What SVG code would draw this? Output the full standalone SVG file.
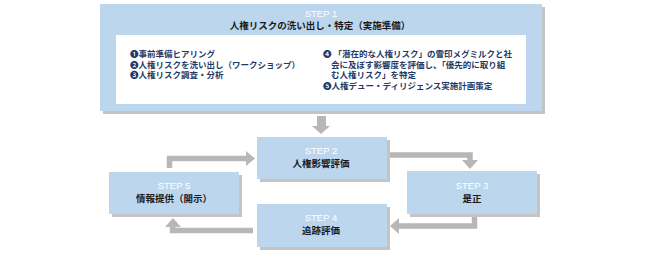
<svg xmlns="http://www.w3.org/2000/svg" width="645" height="256" viewBox="0 0 645 256">
<style>
.box{fill:#bcd6ee}
.shadow{fill:#c4c4c4}
.step{font-family:"Liberation Sans",Arial,sans-serif;font-size:9.5px;fill:#ffffff;text-anchor:middle}
.title{font-family:"Noto Sans CJK JP","Noto Sans",sans-serif;font-size:9.5px;font-weight:bold;fill:#1a1a1a;text-anchor:middle}
.list{font-family:"Noto Sans CJK JP","Noto Sans",sans-serif;font-size:8.5px;font-weight:bold;fill:#1f3a68}
.conn{fill:none;stroke:#b7b7b7;stroke-width:5.5;stroke-linejoin:miter}
.head{fill:#b7b7b7}
</style>
<rect width="645" height="256" fill="#ffffff"/>
<g id="step1">
<rect class="shadow" x="103" y="7" width="442" height="107"/>
<rect class="box" x="100" y="4" width="442" height="107"/>
<rect x="116" y="35" width="410" height="69" fill="#ffffff"/>
<text class="step" x="321" y="16.5">STEP 1</text>
<text class="title" x="320" y="29">人権リスクの洗い出し・特定（実施準備）</text>
<text class="list" x="130" y="57">❶事前準備ヒアリング</text>
<text class="list" x="130" y="67.5">❷人権リスクを洗い出し（ワークショップ）</text>
<text class="list" x="130" y="78">❸人権リスク調査・分析</text>
<text class="list" x="323" y="57">❹ 「潜在的な人権リスク」の雪印メグミルクと社</text>
<text class="list" x="331" y="67.5">会に及ぼす影響度を評価し、「優先的に取り組</text>
<text class="list" x="331" y="78">む人権リスク」を特定</text>
<text class="list" x="323" y="88.5">❺人権デュー・ディリジェンス実施計画策定</text>
</g>
<g id="step2">
<rect class="shadow" x="260" y="140" width="130" height="42"/>
<rect class="box" x="257" y="137" width="130" height="42"/>
<text class="step" x="321" y="154">STEP 2</text>
<text class="title" x="321" y="166.5">人権影響評価</text>
</g>
<g id="step3">
<rect class="shadow" x="410" y="174" width="130" height="43"/>
<rect class="box" x="407" y="171" width="130" height="43"/>
<text class="step" x="472" y="188.5">STEP 3</text>
<text class="title" x="472" y="201.5">是正</text>
</g>
<g id="step4">
<rect class="shadow" x="260" y="207" width="130" height="43"/>
<rect class="box" x="257" y="204" width="130" height="43"/>
<text class="step" x="321" y="221">STEP 4</text>
<text class="title" x="321" y="234">追跡評価</text>
</g>
<g id="step5">
<rect class="shadow" x="112" y="175" width="130" height="42"/>
<rect class="box" x="109" y="172" width="130" height="42"/>
<text class="step" x="174" y="188.5">STEP 5</text>
<text class="title" x="174" y="201.5">情報提供（開示）</text>
</g>
<g id="connectors">
<rect class="head" x="317" y="116" width="9" height="11"/>
<polygon class="head" points="312,126 330,126 321,134"/>
<polyline class="conn" points="169.5,168 169.5,158.5 247,158.5"/>
<polygon class="head" points="246,151 255,158.5 246,166"/>
<polyline class="conn" points="390,155 470,155 470,161"/>
<polygon class="head" points="462,160 478,160 470,169"/>
<polyline class="conn" points="474.5,217 474.5,226 398,226"/>
<polygon class="head" points="399,218 399,234 390,226"/>
<polyline class="conn" points="253,230.5 172.5,230.5 172.5,226"/>
<polygon class="head" points="165,227 181,227 173,218"/>
</g>
</svg>
